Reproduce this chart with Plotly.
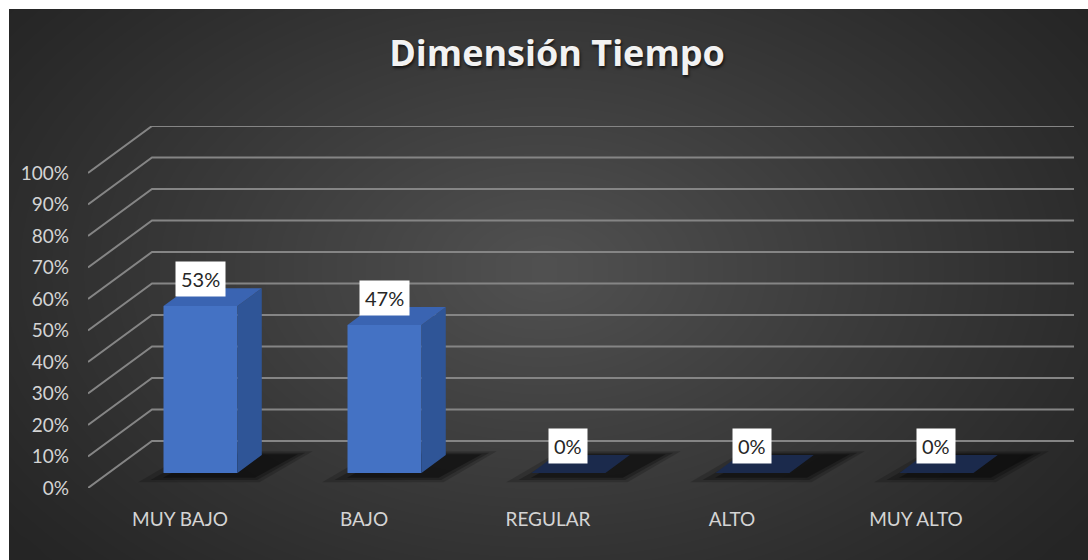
import numpy as np
import plotly.graph_objects as go

# ---- data ----
categories = ["MUY BAJO", "BAJO", "REGULAR", "ALTO", "MUY ALTO"]
values = [0.53, 0.47, 0.0, 0.0, 0.0]
y_ticks = [0, 10, 20, 30, 40, 50, 60, 70, 80, 90, 100]
y_tick_labels = [f"{t}%" for t in y_ticks]
title_text = "Dimensión Tiempo"

# ---- style / projection constants ----
W, H = 1088, 560


def px(x):
    return x / W


def py(y):
    return 1 - y / H


DX = 64 / 184        # x shift (category units) per unit depth
DV = 47 / 3.15       # y shift (axis units) per unit depth
D_FRONT, D_BACK = 0.32, 0.70
BAR_W = 0.402
X_MIN, X_MAX = -0.5, 4.8587
Y_MAX = 114.92

FRONT_C = "#4472C4"
SIDE_C = "#2F5597"
TOP_C = "#3A64B2"
ZERO_C = "#1B2A4C"
GRID_C = "#858585"
TEXT_C = "#D4D4D4"

fig = go.Figure()
shapes = []

# ---- background radial gradient (styling only) ----
gx = np.linspace(-0.1, 1.1, 49)
gy = np.linspace(-0.1, 1.1, 31)
XX, YY = np.meshgrid(gx, gy)
r = np.sqrt(((XX - 0.5) / 0.62) ** 2 + ((YY - 0.52) / 0.78) ** 2)
zbg = np.clip(1 - r, 0, 1) ** 1.1
fig.add_trace(go.Heatmap(x=gx, y=gy, z=zbg, zsmooth="best", showscale=False,
                         colorscale=[[0, "#252525"], [1, "#505050"]],
                         hoverinfo="skip", xaxis="x", yaxis="y"))

# white outer margin (top / left) of the picture
shapes.append(dict(type="rect", xref="paper", yref="paper", x0=0, x1=1, y0=py(9), y1=1,
                   fillcolor="#FFFFFF", line=dict(width=0), layer="above"))
shapes.append(dict(type="rect", xref="paper", yref="paper", x0=0, x1=px(9), y0=0, y1=1,
                   fillcolor="#FFFFFF", line=dict(width=0), layer="above"))

# ---- walls: gridlines on back wall + diagonals on side wall (below traces) ----
for t in y_ticks:
    path = (f"M {X_MIN},{t} L {X_MIN + DX},{t + DV} L {X_MAX},{t + DV}")
    shapes.append(dict(type="path", path=path, xref="x2", yref="y2", layer="below",
                       line=dict(color=GRID_C, width=2)))

# ---- soft shadows on the floor (below traces) ----
base_v = D_FRONT * DV
xc = [i + D_FRONT * DX for i in range(len(values))]
for k, (grow, op) in enumerate([(0.13, 0.18), (0.08, 0.25), (0.03, 0.35)]):
    for i, v in enumerate(values):
        d0, d1 = 0.12 + k * 0.05, 0.78 - k * 0.03
        xl = xc[i] - BAR_W / 2 - grow - 0.05
        xr = xc[i] + BAR_W / 2 + grow * 0.6
        path = (f"M {xl + d0 * DX},{d0 * DV} L {xr + d0 * DX},{d0 * DV} "
                f"L {xr + d1 * DX + 0.06},{d1 * DV} L {xl + d1 * DX + 0.06},{d1 * DV} Z")
        shapes.append(dict(type="path", path=path, xref="x2", yref="y2", layer="below",
                           fillcolor=f"rgba(0,0,0,{op})", line=dict(width=0)))

# ---- bars: front faces ----
fig.add_trace(go.Bar(x=xc, y=[v * 100 for v in values], base=base_v, width=BAR_W,
                     marker=dict(color=FRONT_C, line=dict(width=0)),
                     hoverinfo="skip", showlegend=False, xaxis="x2", yaxis="y2"))

# side and top faces
dd = D_BACK - D_FRONT
sx, sy, tx, ty, zx, zy = [], [], [], [], [], []
for i, v in enumerate(values):
    h = v * 100
    xl = xc[i] - BAR_W / 2
    xr = xc[i] + BAR_W / 2
    top = base_v + h
    poly_tx = [xl, xr, xr + dd * DX, xl + dd * DX, xl, None]
    poly_ty = [top, top, top + dd * DV, top + dd * DV, top, None]
    if h > 0:
        sx += [xr, xr + dd * DX, xr + dd * DX, xr, xr, None]
        sy += [base_v, base_v + dd * DV, top + dd * DV, top, base_v, None]
        tx += poly_tx
        ty += poly_ty
    else:
        zx += poly_tx
        zy += poly_ty
for pxs, pys, col in [(sx, sy, SIDE_C), (tx, ty, TOP_C), (zx, zy, ZERO_C)]:
    fig.add_trace(go.Scatter(x=pxs, y=pys, mode="lines", fill="toself", fillcolor=col,
                             line=dict(width=0), hoverinfo="skip", showlegend=False,
                             xaxis="x2", yaxis="y2"))

# ---- data labels ----
for i, v in enumerate(values):
    fig.add_annotation(x=xc[i], y=base_v + v * 100, xref="x2", yref="y2",
                       text=f"{round(v * 100)}%", showarrow=False,
                       yanchor="bottom", yshift=9, bgcolor="#FFFFFF", borderpad=5,
                       font=dict(family="Lato", size=20, color="#262626"))

fig.update_layout(
    width=W, height=H,
    autosize=False,
    margin=dict(l=0, r=0, t=0, b=0, autoexpand=False),
    paper_bgcolor="#262626",
    plot_bgcolor="rgba(0,0,0,0)",
    showlegend=False,
    shapes=shapes,
    title=dict(text=title_text, x=px(557), xanchor="center", y=py(53), yanchor="middle",
               font=dict(family="Open Sans", size=36, color="#F2F2F2", weight="bold",
                         shadow="1px 2px 3px rgba(0,0,0,0.7)")),
    xaxis=dict(domain=[0, 1], range=[0, 1], visible=False, fixedrange=True,
               automargin=False),
    yaxis=dict(domain=[0, 1], range=[0, 1], visible=False, fixedrange=True,
               automargin=False),
    xaxis2=dict(domain=[px(88), px(1074)], range=[X_MIN, X_MAX], anchor="y2",
                tickvals=list(range(len(categories))), ticktext=categories,
                showgrid=False, zeroline=False, showline=False, ticks="",
                ticklabelstandoff=18, automargin=False,
                tickfont=dict(family="Lato", size=19, color=TEXT_C)),
    yaxis2=dict(domain=[py(488), py(126)], range=[0, Y_MAX], anchor="x2",
                tickvals=y_ticks, ticktext=y_tick_labels,
                showgrid=False, zeroline=False, showline=False, ticks="",
                ticklabelstandoff=18, automargin=False,
                tickfont=dict(family="Lato", size=19, color=TEXT_C)),
)

fig.write_html(
    "out.html",
    config={"displayModeBar": False, "responsive": False},
    post_script=("document.body.style.margin='0px';"
                 "document.body.style.overflow='hidden';"
                 "document.documentElement.style.overflow='hidden';"),
)
